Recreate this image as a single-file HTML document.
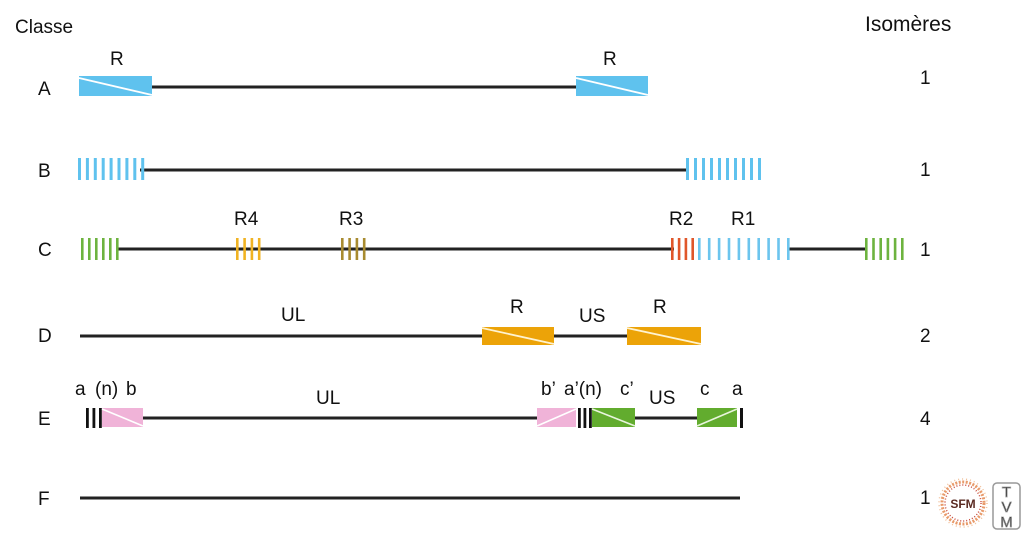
<!DOCTYPE html>
<html><head><meta charset="utf-8"><style>
html,body{margin:0;padding:0;background:#fff;}
svg{display:block;}
text{font-family:"Liberation Sans",sans-serif;fill:#111;}
</style></head><body>
<svg width="1024" height="535" viewBox="0 0 1024 535" xmlns="http://www.w3.org/2000/svg">
<rect width="1024" height="535" fill="#fff"/>
<!-- headers -->
<text x="15" y="33" font-size="19">Classe</text>
<text x="865" y="31" font-size="21">Isomères</text>
<!-- row labels -->
<g font-size="19">
<text x="38" y="95">A</text>
<text x="38" y="177">B</text>
<text x="38" y="256">C</text>
<text x="38" y="342">D</text>
<text x="38" y="425">E</text>
<text x="38" y="505">F</text>
</g>
<!-- isomer counts -->
<g font-size="19">
<text x="920" y="84">1</text>
<text x="920" y="176">1</text>
<text x="920" y="256">1</text>
<text x="920" y="342">2</text>
<text x="920" y="425">4</text>
<text x="920" y="504">1</text>
</g>

<!-- Row A -->
<line x1="150" y1="87" x2="578" y2="87" stroke="#222" stroke-width="3"/>
<rect x="79" y="76" width="73" height="20" fill="#5FC2EE"/>
<line x1="79" y1="78" x2="152" y2="95" stroke="#fff" stroke-width="1.8"/>
<rect x="576" y="76" width="72" height="20" fill="#5FC2EE"/>
<line x1="576" y1="78" x2="648" y2="95" stroke="#fff" stroke-width="1.8"/>
<text x="110" y="65" font-size="19">R</text>
<text x="603" y="65" font-size="19">R</text>

<!-- Row B -->
<line x1="140" y1="170" x2="688" y2="170" stroke="#222" stroke-width="3"/>
<g fill="#5FC2EE">
<rect x="78" y="158" width="3" height="22"/><rect x="85.9" y="158" width="3" height="22"/><rect x="93.8" y="158" width="3" height="22"/><rect x="101.7" y="158" width="3" height="22"/><rect x="109.6" y="158" width="3" height="22"/><rect x="117.5" y="158" width="3" height="22"/><rect x="125.4" y="158" width="3" height="22"/><rect x="133.3" y="158" width="3" height="22"/><rect x="141.2" y="158" width="3" height="22"/>
<rect x="686" y="158" width="3" height="22"/><rect x="694" y="158" width="3" height="22"/><rect x="702" y="158" width="3" height="22"/><rect x="710" y="158" width="3" height="22"/><rect x="718" y="158" width="3" height="22"/><rect x="726" y="158" width="3" height="22"/><rect x="734" y="158" width="3" height="22"/><rect x="742" y="158" width="3" height="22"/><rect x="750" y="158" width="3" height="22"/><rect x="758" y="158" width="3" height="22"/>
</g>

<!-- Row C -->
<line x1="116" y1="249" x2="674" y2="249" stroke="#222" stroke-width="3"/>
<line x1="787" y1="249" x2="866" y2="249" stroke="#222" stroke-width="3"/>
<g fill="#6DB33F">
<rect x="81" y="238" width="2.6" height="22"/><rect x="88" y="238" width="2.6" height="22"/><rect x="95" y="238" width="2.6" height="22"/><rect x="102" y="238" width="2.6" height="22"/><rect x="109" y="238" width="2.6" height="22"/><rect x="116" y="238" width="2.6" height="22"/>
<rect x="865" y="238" width="2.6" height="22"/><rect x="872.2" y="238" width="2.6" height="22"/><rect x="879.4" y="238" width="2.6" height="22"/><rect x="886.6" y="238" width="2.6" height="22"/><rect x="893.8" y="238" width="2.6" height="22"/><rect x="901" y="238" width="2.6" height="22"/>
</g>
<g fill="#F0B323">
<rect x="236" y="238" width="2.6" height="22"/><rect x="243.3" y="238" width="2.6" height="22"/><rect x="250.6" y="238" width="2.6" height="22"/><rect x="257.9" y="238" width="2.6" height="22"/>
</g>
<g fill="#A88B30">
<rect x="341" y="238" width="2.6" height="22"/><rect x="348.3" y="238" width="2.6" height="22"/><rect x="355.6" y="238" width="2.6" height="22"/><rect x="362.9" y="238" width="2.6" height="22"/>
</g>
<g fill="#E0562A">
<rect x="671" y="238" width="2.6" height="22"/><rect x="677.8" y="238" width="2.6" height="22"/><rect x="684.6" y="238" width="2.6" height="22"/><rect x="691.4" y="238" width="2.6" height="22"/>
</g>
<g fill="#6CC5EE">
<rect x="698" y="238" width="2.6" height="22"/><rect x="707.9" y="238" width="2.6" height="22"/><rect x="717.8" y="238" width="2.6" height="22"/><rect x="727.7" y="238" width="2.6" height="22"/><rect x="737.6" y="238" width="2.6" height="22"/><rect x="747.5" y="238" width="2.6" height="22"/><rect x="757.4" y="238" width="2.6" height="22"/><rect x="767.3" y="238" width="2.6" height="22"/><rect x="777.2" y="238" width="2.6" height="22"/><rect x="787" y="238" width="2.6" height="22"/>
</g>
<text x="234" y="225" font-size="19">R4</text>
<text x="339" y="225" font-size="19">R3</text>
<text x="669" y="225" font-size="19">R2</text>
<text x="731" y="225" font-size="19">R1</text>

<!-- Row D -->
<line x1="80" y1="336" x2="630" y2="336" stroke="#222" stroke-width="3"/>
<rect x="482" y="327" width="72" height="18" fill="#ECA308"/>
<line x1="482" y1="328" x2="554" y2="344" stroke="#FFF3D0" stroke-width="1.8"/>
<rect x="627" y="327" width="74" height="18" fill="#ECA308"/>
<line x1="627" y1="328" x2="701" y2="344" stroke="#FFF3D0" stroke-width="1.8"/>
<text x="281" y="321" font-size="19">UL</text>
<text x="510" y="313" font-size="19">R</text>
<text x="579" y="322" font-size="19">US</text>
<text x="653" y="313" font-size="19">R</text>

<!-- Row E -->
<line x1="140" y1="418" x2="540" y2="418" stroke="#222" stroke-width="3"/>
<line x1="633" y1="418" x2="699" y2="418" stroke="#222" stroke-width="3"/>
<g fill="#111">
<rect x="86" y="408" width="2.8" height="20"/><rect x="92.5" y="408" width="2.8" height="20"/><rect x="99" y="408" width="2.8" height="20"/>
<rect x="578" y="408" width="2.8" height="20"/><rect x="583.5" y="408" width="2.8" height="20"/><rect x="589" y="408" width="2.8" height="20"/>
<rect x="740" y="408" width="3" height="20"/>
</g>
<rect x="102" y="408" width="41" height="19" fill="#F0B3D8"/>
<line x1="102" y1="409" x2="143" y2="426" stroke="#fff" stroke-width="1.6"/>
<rect x="537" y="408" width="39" height="19" fill="#F0B3D8"/>
<line x1="537" y1="426" x2="576" y2="409" stroke="#fff" stroke-width="1.6"/>
<rect x="592" y="408" width="43" height="19" fill="#62AC2E"/>
<line x1="592" y1="409" x2="635" y2="426" stroke="#E8F5DC" stroke-width="1.6"/>
<rect x="697" y="408" width="40" height="19" fill="#62AC2E"/>
<line x1="697" y1="426" x2="737" y2="409" stroke="#E8F5DC" stroke-width="1.6"/>
<g font-size="19">
<text x="75" y="395">a</text>
<text x="95" y="395">(n)</text>
<text x="126" y="395">b</text>
<text x="316" y="404">UL</text>
<text x="541" y="395">b’</text>
<text x="564" y="395">a’(n)</text>
<text x="620" y="395">c’</text>
<text x="649" y="404">US</text>
<text x="700" y="395">c</text>
<text x="732" y="395">a</text>
</g>

<!-- Row F -->
<line x1="80" y1="498" x2="740" y2="498" stroke="#222" stroke-width="3"/>

<!-- SFM logo -->
<circle cx="963" cy="503" r="21" fill="none" stroke="#E89A6A" stroke-width="3" stroke-dasharray="2 1.5"/>
<circle cx="963" cy="503" r="18" fill="none" stroke="#C84A3A" stroke-width="1.5" stroke-dasharray="1 2"/>
<circle cx="963" cy="503" r="24" fill="none" stroke="#F2C09A" stroke-width="1.5" stroke-dasharray="1 3"/>
<text x="963" y="508" font-size="12" font-weight="bold" text-anchor="middle" style="fill:#5A2A22">SFM</text>
<!-- TVM logo -->
<rect x="993" y="483" width="27" height="46" rx="4" fill="none" stroke="#999" stroke-width="1.5"/>
<g font-size="15" text-anchor="middle" style="fill:none;stroke:#999;stroke-width:0.8">
<text x="1006.5" y="497">T</text>
<text x="1006.5" y="512">V</text>
<text x="1006.5" y="527">M</text>
</g>
</svg>
</body></html>
